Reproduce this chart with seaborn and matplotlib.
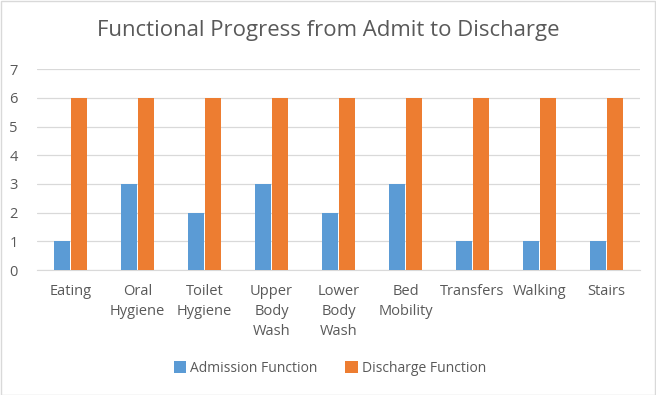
import numpy as np
import pandas as pd
import matplotlib
matplotlib.use("Agg")
import matplotlib.pyplot as plt
import seaborn as sns

# data
tasks = ["Eating", "Oral\nHygiene", "Toilet\nHygiene", "Upper\nBody\nWash", "Lower\nBody\nWash",
         "Bed\nMobility", "Transfers", "Walking", "Stairs"]
admission = [1, 3, 2, 3, 2, 3, 1, 1, 1]
discharge = [6, 6, 6, 6, 6, 6, 6, 6, 6]
series_names = ["Admission Function", "Discharge Function"]

df = pd.DataFrame({
    "task": tasks * 2,
    "score": admission + discharge,
    "series": [series_names[0]] * len(tasks) + [series_names[1]] * len(tasks),
})

sns.set_style("white")
plt.rcParams["font.family"] = ["Open Sans", "DejaVu Sans"]
txt = "#595959"

fig = plt.figure(figsize=(6.56, 3.95), dpi=100)
ax = fig.add_axes([37 / 656, 1 - 270 / 395, 603 / 656, (270 - 69.3) / 395])

sns.barplot(data=df, x="task", y="score", hue="series",
            palette=["#5B9BD5", "#ED7D31"], width=0.5, gap=0.07,
            saturation=1, linewidth=0, ax=ax, zorder=3)

ax.set_ylim(0, 7)
ax.set_yticks(range(0, 8))
ax.set_xlim(-0.5, len(tasks) - 0.5)
ax.grid(axis="y", color="#D9D9D9", linewidth=0.9, zorder=0)
for s in ["top", "right", "left"]:
    ax.spines[s].set_visible(False)
ax.spines["bottom"].set_color("#D9D9D9")
ax.tick_params(axis="both", length=0, colors=txt, labelsize=10.5)
ax.tick_params(axis="x", pad=10)
ax.tick_params(axis="y", pad=14)
for lab in ax.get_xticklabels():
    lab.set_linespacing(1.45)
ax.set_xlabel("")
ax.set_ylabel("")

fig.suptitle("Functional Progress from Admit to Discharge", x=0.5, y=0.95,
             fontsize=15.9, color=txt)

leg = ax.legend(loc="center", bbox_to_anchor=(0.503, 0.068), bbox_transform=fig.transFigure,
                ncol=2, frameon=False, fontsize=10, handlelength=0.9, handleheight=0.9,
                columnspacing=2.0, handletextpad=0.3)
for t in leg.get_texts():
    t.set_color(txt)

fig.patches.append(plt.Rectangle((0.001, 0.001), 0.997, 0.997, transform=fig.transFigure,
                                 fill=False, edgecolor="#D9D9D9", linewidth=1))

fig.savefig("out.png", dpi=100)
